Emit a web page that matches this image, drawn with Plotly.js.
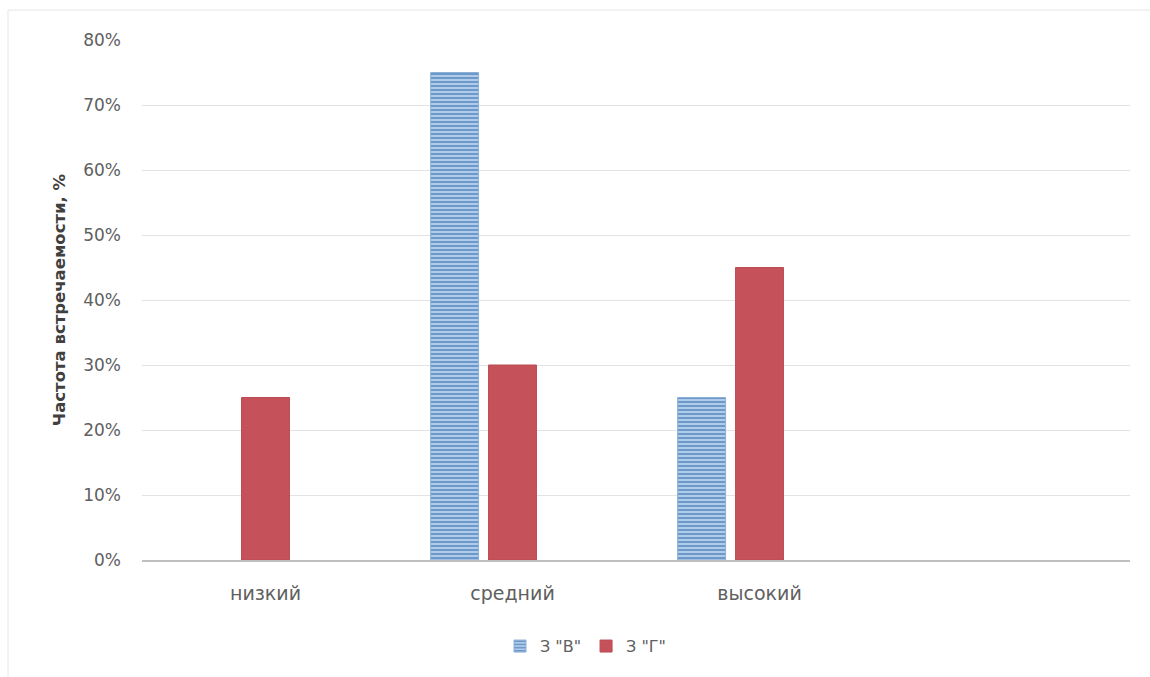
<!DOCTYPE html>
<html>
<head>
<meta charset="utf-8">
<script src="https://cdn.plot.ly/plotly-3.0.1.min.js"></script>
<style>
html,body{margin:0;padding:0;background:#fff;}
#chart{width:1150px;height:677px;}
</style>
</head>
<body>
<div id="chart"></div>
<script>
var categories = ['низкий', 'средний', 'высокий', ' '];
var seriesNames = ['З "В"', 'З "Г"'];
var valuesV = [null, 0.75, 0.25, null];
var valuesG = [0.25, 0.30, 0.45, null];
var valuesEmpty = [null, null, null, null];
var yTicks = [0, 0.1, 0.2, 0.3, 0.4, 0.5, 0.6, 0.7, 0.8];
var yTickText = ['0%', '10%', '20%', '30%', '40%', '50%', '60%', '70%', '80%'];

var font = 'DejaVu Sans, Open Sans, sans-serif';

var traces = [
  {
    type: 'bar', name: seriesNames[0], x: categories, y: valuesV,
    marker: {
      color: '#a9c8e8',
      line: {color: '#8ab0da', width: 1},
      pattern: {shape: '-', fgcolor: '#6792c4', bgcolor: '#aecbea', size: 4, solidity: 0.45}
    },
    hoverinfo: 'y'
  },
  {
    type: 'bar', name: seriesNames[1], x: categories, y: valuesG,
    marker: {color: '#c5515a', line: {color: '#bd4b52', width: 1}},
    hoverinfo: 'y'
  },
  {
    type: 'bar', name: '', x: categories, y: valuesEmpty,
    showlegend: false, marker: {color: '#9bbb59'}, hoverinfo: 'skip'
  }
];

var L = 142, T = 40, W = 988, H = 520;

var layout = {
  width: 1150, height: 677,
  margin: {l: L, r: 1150 - L - W, t: T, b: 677 - T - H},
  paper_bgcolor: '#ffffff', plot_bgcolor: '#ffffff',
  barmode: 'group',
  bargap: 0.297,
  bargroupgap: 0.172,
  font: {family: font, color: '#595959', size: 16},
  xaxis: {
    type: 'category',
    categoryorder: 'array', categoryarray: categories,
    range: [-0.5, 3.5],
    showgrid: false, zeroline: false,
    showline: true, linecolor: '#bfbfbf', linewidth: 2,
    ticks: '', ticklabelstandoff: 15,
    tickfont: {family: font, size: 19, color: '#606060'},
    fixedrange: true
  },
  yaxis: {
    range: [0, 0.8],
    tickvals: yTicks, ticktext: yTickText,
    showgrid: true, gridcolor: '#e3e3e3', gridwidth: 1,
    zeroline: false, showline: false,
    ticks: '', ticklabelstandoff: 20,
    tickfont: {family: font, size: 17, color: '#606060'},
    title: {text: 'Частота встречаемости, %', standoff: 13,
            font: {family: font, size: 16.5, color: '#404040', weight: 'bold'}},
    fixedrange: true
  },
  legend: {
    orientation: 'h', x: (500 - L) / W, xanchor: 'left', y: -0.133, yanchor: 'top',
    font: {family: font, size: 16, color: '#606060'},
    itemwidth: 30, traceorder: 'normal'
  },
  shapes: [
    {type: 'line', xref: 'paper', yref: 'paper',
     x0: (8 - L) / W, x1: (1150 - L) / W,
     y0: (T + H - 10) / H, y1: (T + H - 10) / H,
     line: {color: '#e6e6e6', width: 1}},
    {type: 'line', xref: 'paper', yref: 'paper',
     x0: (8 - L) / W, x1: (8 - L) / W,
     y0: (T + H - 10) / H, y1: (T + H - 677) / H,
     line: {color: '#e6e6e6', width: 1}}
  ],
  showlegend: true
};

Plotly.newPlot('chart', traces, layout, {displayModeBar: false, staticPlot: true});
</script>
</body>
</html>
